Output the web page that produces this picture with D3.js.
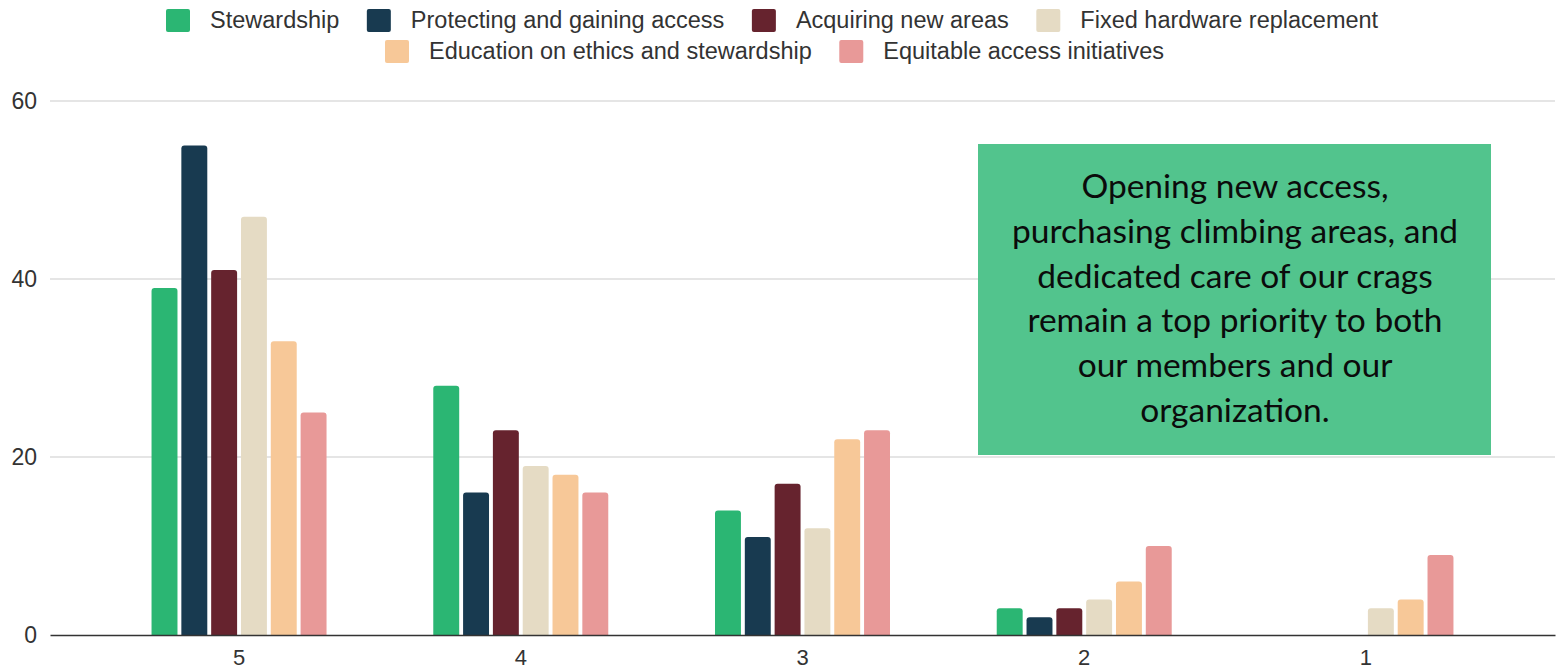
<!DOCTYPE html>
<html>
<head>
<meta charset="utf-8">
<script src="https://cdn.jsdelivr.net/npm/d3@7"></script>
<style>
  body { margin: 0; background: #fff; }
  svg { display: block; }
</style>
</head>
<body>
<div id="viz"></div>
<script>
const categories = ["5", "4", "3", "2", "1"];
const seriesNames = [
    "Stewardship",
    "Protecting and gaining access",
    "Acquiring new areas",
    "Fixed hardware replacement",
    "Education on ethics and stewardship",
    "Equitable access initiatives"
];
const seriesColors = ["#2bb673", "#183a50", "#66232e", "#e5dbc4", "#f7c898", "#e89998"];
// one array per series, in category order 5..1
const stewardship = [39, 28, 14, 3, 0];
const protecting = [55, 16, 11, 2, 0];
const acquiring = [41, 23, 17, 3, 0];
const hardware = [47, 19, 12, 4, 3];
const education = [33, 18, 22, 6, 4];
const equitable = [25, 16, 23, 10, 9];
const seriesValues = [stewardship, protecting, acquiring, hardware, education, equitable];
const yTicks = [0, 20, 40, 60];
const noteLines = [
    "Opening new access,",
    "purchasing climbing areas, and",
    "dedicated care of our crags",
    "remain a top priority to both",
    "our members and our",
    "organization."
];

const width = 1561;
const height = 671;

const svg = d3.select("#viz")
    .append("svg")
    .attr("width", width)
    .attr("height", height);

const margin = {top: 101, right: 6, bottom: 36, left: 50};
const innerWidth = width - margin.left - margin.right;
const innerHeight = height - margin.top - margin.bottom;
const font = "Liberation Sans, Arial, sans-serif";

const g = svg.append("g")
    .attr("transform", `translate(${margin.left}, ${margin.top})`);

const xScale = d3.scaleBand()
    .domain(categories)
    .range([0, innerWidth])
    .paddingInner(0)
    .paddingOuter(0.171);

const xInner = d3.scaleBand()
    .domain(d3.range(seriesNames.length))
    .range([0, 175])
    .paddingInner(0.13)
    .paddingOuter(0);

const yScale = d3.scaleLinear()
    .domain([0, 60])
    .range([innerHeight, 0]);

// gridlines
g.append("g")
    .selectAll("line")
    .data(yTicks.filter(d => d > 0))
    .enter().append("line")
        .attr("x1", 0)
        .attr("x2", innerWidth)
        .attr("y1", d => yScale(d))
        .attr("y2", d => yScale(d))
        .attr("stroke", "#cccccc")
        .attr("stroke-width", 1.2);

// y labels
g.append("g")
    .selectAll("text")
    .data(yTicks)
    .enter().append("text")
        .attr("x", -13)
        .attr("y", d => yScale(d))
        .attr("dy", "0.35em")
        .attr("text-anchor", "end")
        .attr("font-family", font)
        .attr("font-size", 23)
        .attr("fill", "#333")
        .text(d => d);

// rounded-top bar path
const barPath = (x, y, w, h, r) => {
    if (h <= 0) return "";
    r = Math.min(r, h, w / 2);
    return `M${x},${y + h}V${y + r}Q${x},${y} ${x + r},${y}H${x + w - r}Q${x + w},${y} ${x + w},${y + r}V${y + h}Z`;
};

const groups = g.selectAll(".cat")
    .data(categories)
    .enter().append("g")
        .attr("class", "cat")
        .attr("transform", d => `translate(${xScale(d) + xScale.bandwidth() / 2 - 87.5}, 0)`);

groups.selectAll("path")
    .data((c, ci) => seriesValues.map((vals, si) => ({si, v: vals[ci]})))
    .enter().append("path")
        .attr("fill", d => seriesColors[d.si])
        .attr("d", d => barPath(xInner(d.si), yScale(d.v), xInner.bandwidth(), innerHeight - yScale(d.v), 3));

// x axis
const xAxis = g.append("g")
    .attr("transform", `translate(0, ${innerHeight})`)
    .call(d3.axisBottom(xScale).tickSize(0).tickPadding(14));
xAxis.select(".domain").attr("stroke", "#333").attr("stroke-width", 1.6);
xAxis.selectAll("text")
    .attr("font-family", font)
    .attr("font-size", 22)
    .attr("fill", "#333");

// legend
const legendRows = [[0, 1, 2, 3], [4, 5]];
const legendStart = [166, 385];
const legend = svg.append("g");
const measure = svg.append("text")
    .attr("font-family", font)
    .attr("font-size", 23.5)
    .attr("visibility", "hidden");
const textWidth = s => { measure.text(s); return measure.node().getComputedTextLength(); };
legendRows.forEach((row, ri) => {
    let x = legendStart[ri];
    const yTop = 9 + ri * 31;
    row.forEach(i => {
        legend.append("rect")
            .attr("x", x).attr("y", yTop)
            .attr("width", 24).attr("height", 23)
            .attr("rx", 2)
            .attr("fill", seriesColors[i]);
        legend.append("text")
            .attr("x", x + 44)
            .attr("y", yTop + 18.5)
            .attr("font-family", font)
            .attr("font-size", 23.5)
            .attr("fill", "#333")
            .text(seriesNames[i]);
        x += 44 + textWidth(seriesNames[i]) + 27.5;
    });
});
measure.remove();

// annotation box
const note = svg.append("g");
note.append("rect")
    .attr("x", 978).attr("y", 144)
    .attr("width", 513).attr("height", 311)
    .attr("fill", "#52c48d");
note.selectAll("text")
    .data(noteLines)
    .enter().append("text")
        .attr("x", 1235)
        .attr("y", (d, i) => 198 + i * 44.8)
        .attr("text-anchor", "middle")
        .attr("font-family", "Lato, Open Sans, sans-serif")
        .attr("font-size", 33.5)
        .attr("fill", "#0b0b0b")
        .text(d => d);
</script>
</body>
</html>
